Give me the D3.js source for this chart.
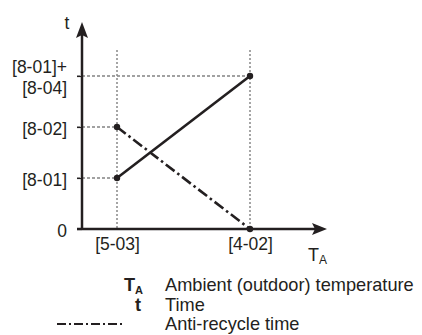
<!DOCTYPE html>
<html><head><meta charset="utf-8">
<script src="https://cdn.jsdelivr.net/npm/d3@7"></script>
<style>
body{margin:0;background:#fff;}
svg{display:block;font-family:"Liberation Sans",Arial,sans-serif;}
</style></head>
<body><svg id="c" width="422" height="335"></svg>
<script>
// ---- data ----
const xCategories = ["[5-03]", "[4-02]"];
const xValues = [1, 4.8];
const yTickValues = [0, 1, 2, 3];
const yTickLabels = [["0"], ["[8-01]"], ["[8-02]"], ["[8-01]+", "[8-04]"]];
const timeSeries = [[1, 1], [4.8, 3]];          // solid line
const antiRecycleSeries = [[1, 2], [4.8, 0]];   // dash-dot line
const legendSymbols = ["T", "t", ""];
const legendTexts = ["Ambient (outdoor) temperature", "Time", "Anti-recycle time"];

// ---- layout ----
const svg = d3.select("#c");
const x = d3.scaleLinear().domain([0, 7]).range([82, 327]);
const y = d3.scaleLinear().domain([0, 3]).range([229, 76]);
const FS = 17.5;
const LFS = 18.2;
const ink = "#231f20";

// guides
const guides = svg.append("g");
guides.selectAll("line.h").data(yTickValues.slice(1)).join("line")
  .attr("x1", x(0) - 5).attr("x2", d => d === 3 ? x(xValues[1]) : x(xValues[0]))
  .attr("y1", d => y(d)).attr("y2", d => y(d))
  .attr("stroke", "#444").attr("stroke-width", 1.2).attr("stroke-dasharray", "3,2");
guides.selectAll("line.v").data(xValues).join("line")
  .attr("x1", d => x(d)).attr("x2", d => x(d))
  .attr("y1", 50).attr("y2", y(0))
  .attr("stroke", "#888").attr("stroke-width", 1.5).attr("stroke-dasharray", "2,2");

// y axis ticks & labels
const yAxis = d3.axisLeft(y).tickValues(yTickValues).tickSize(5).tickPadding(10).tickFormat("");
const gy = svg.append("g").attr("transform", `translate(${x(0)},0)`).call(yAxis);
gy.select(".domain").remove();
gy.selectAll(".tick line").attr("stroke", ink).attr("stroke-width", 1.2);
gy.selectAll(".tick").each(function(d, i) {
  const lines = yTickLabels[i];
  const t = d3.select(this).append("text").attr("x", -15).attr("text-anchor", "end")
    .attr("fill", ink).attr("font-size", FS);
  lines.forEach((s, k) => {
    t.append("tspan").attr("x", -15)
      .attr("y", (k - (lines.length - 1) / 2) * 21 + 1)
      .attr("dy", "0.35em").text(s);
  });
});

// x axis labels
const xAxis = d3.axisBottom(x).tickValues(xValues).tickSize(0).tickPadding(9)
  .tickFormat((d, i) => xCategories[i]);
const gx = svg.append("g").attr("transform", `translate(0,${y(0)})`).call(xAxis);
gx.select(".domain").remove();
gx.selectAll(".tick text").attr("fill", ink).attr("font-size", FS).attr("font-family", "Liberation Sans, Arial, sans-serif");

// axes lines with arrows
svg.append("line").attr("x1", x(0) - 5).attr("x2", x(7) - 10).attr("y1", y(0)).attr("y2", y(0))
  .attr("stroke", ink).attr("stroke-width", 2.5);
svg.append("line").attr("x1", x(0)).attr("x2", x(0)).attr("y1", y(0) + 1).attr("y2", 32)
  .attr("stroke", ink).attr("stroke-width", 2.5);
const ax = x(7), ay = y(0);
svg.append("path").attr("d", `M${ax},${ay} L${ax-15},${ay-6} L${ax-12},${ay} L${ax-15},${ay+6} Z`).attr("fill", ink);
const tx = x(0), ty = 22;
svg.append("path").attr("d", `M${tx},${ty} L${tx-6},${ty+16} L${tx},${ty+13} L${tx+6},${ty+16} Z`).attr("fill", ink);

// axis titles
svg.append("text").attr("x", 67).attr("y", 29).attr("text-anchor", "middle")
  .attr("font-size", 17.5).attr("fill", ink).text("t");
const xt = svg.append("text").attr("x", 308).attr("y", 261).attr("font-size", 18).attr("fill", ink);
xt.append("tspan").text("T");
xt.append("tspan").attr("font-size", 12).attr("dy", 3).text("A");

// series
const line = d3.line().x(d => x(d[0])).y(d => y(d[1]));
svg.append("path").datum(timeSeries).attr("d", line).attr("fill", "none")
  .attr("stroke", ink).attr("stroke-width", 2.6);
svg.append("path").datum(antiRecycleSeries).attr("d", line).attr("fill", "none")
  .attr("stroke", ink).attr("stroke-width", 2.6).attr("stroke-dasharray", "11,3.5,2.5,3.5");
svg.selectAll("circle.p").data(timeSeries.concat(antiRecycleSeries)).join("circle")
  .attr("cx", d => x(d[0])).attr("cy", d => y(d[1])).attr("r", 3.2).attr("fill", ink);

// legend
const rowsY = [284.5, 304.5, 324];
const lg = svg.append("g");
legendTexts.forEach((s, i) => {
  lg.append("text").attr("x", 165).attr("y", rowsY[i]).attr("dy", "0.35em")
    .attr("font-size", LFS).attr("fill", ink).text(s);
});
const s0 = lg.append("text").attr("x", 143).attr("y", rowsY[0]).attr("dy", "0.35em")
  .attr("text-anchor", "end").attr("font-weight", "bold").attr("font-size", LFS).attr("fill", ink);
s0.append("tspan").text(legendSymbols[0]);
s0.append("tspan").attr("font-size", 11).attr("dy", 3).text("A");
lg.append("text").attr("x", 141).attr("y", rowsY[1]).attr("dy", "0.35em")
  .attr("text-anchor", "end").attr("font-weight", "bold").attr("font-size", LFS).attr("fill", ink)
  .text(legendSymbols[1]);
lg.append("line").attr("x1", 57).attr("x2", 123).attr("y1", rowsY[2]).attr("y2", rowsY[2])
  .attr("stroke", ink).attr("stroke-width", 2).attr("stroke-dasharray", "9,3,2,3");
</script></body></html>
